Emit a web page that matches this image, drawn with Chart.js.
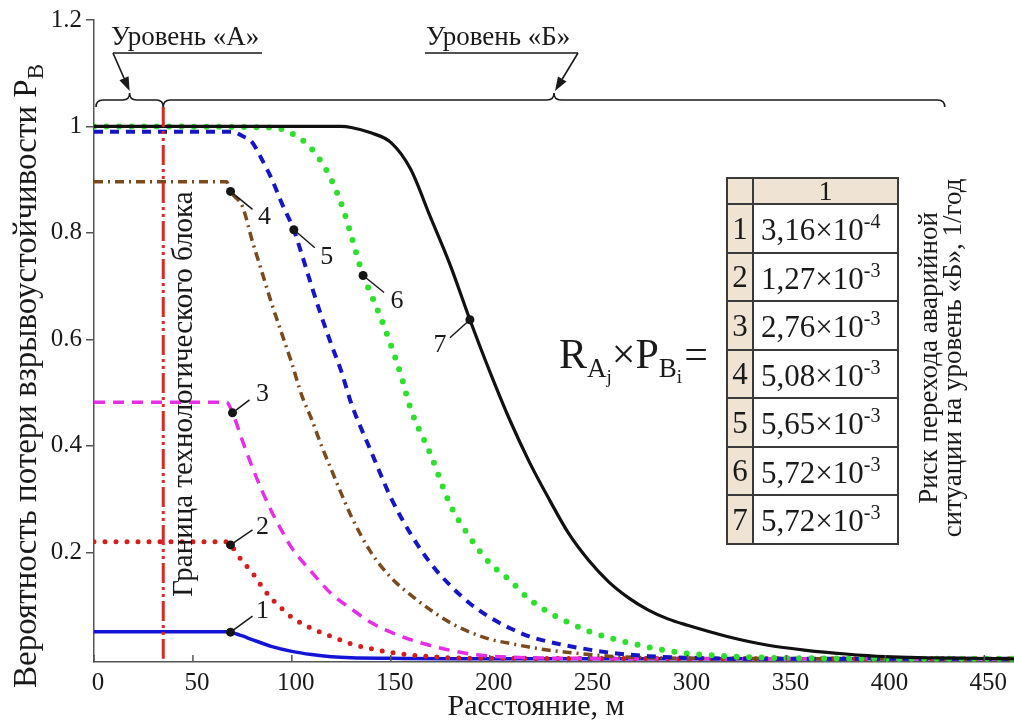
<!DOCTYPE html>
<html lang="ru">
<head>
<meta charset="utf-8">
<title>Вероятность потери взрывоустойчивости</title>
<script src="https://cdn.jsdelivr.net/npm/chart.js@4.4.1/dist/chart.umd.min.js"></script>
<style>
  html, body { margin: 0; padding: 0; background: #fff; }
  #wrap { position: relative; width: 1014px; height: 724px; overflow: hidden;
          font-family: "Liberation Serif", "DejaVu Serif", serif; color: #1a1a1a; }
  #chart { position: absolute; left: 0; top: 0; }
  #riskTable { position: absolute; left: 726px; top: 177px; border-collapse: collapse;
               table-layout: fixed; font-size: 31px; line-height: 1; }
  #riskTable th, #riskTable td { border: 2px solid #3a3a3a; padding: 0; }
  #riskTable th { height: 24px; background: #efe3d4; font-weight: normal; font-size: 28px; line-height: 24px; }
  #riskTable td.idx { width: 24px; background: #efe3d4; text-align: center; }
  #riskTable td.val { width: 136px; height: 46.5px; text-align: left; padding-left: 7px; white-space: nowrap; }
  #riskTable sup { font-size: 20px; vertical-align: 12px; }
  #formula { position: absolute; left: 559px; top: 328px; font-size: 42px; line-height: 52px; white-space: nowrap; }
  #formula .s1 { font-size: 27px; position: relative; top: 9px; }
  #formula .s2 { font-size: 19px; position: relative; top: 6px; }
  #formula .eq { margin-left: 2px; }
  #riskCaption { position: absolute; left: 741px; top: 333px; width: 400px; height: 50px;
                 transform: rotate(-90deg); text-align: center; font-size: 27px; line-height: 24px; }
</style>
</head>
<body>
<div id="wrap">
  <canvas id="chart" width="1014" height="724"></canvas>
  <div id="formula">R<span class="s1">A<span class="s2">j</span></span>×P<span class="s1">B<span class="s2">i</span></span><span class="eq">=</span></div>
  <table id="riskTable"></table>
  <div id="riskCaption">Риск перехода аварийной<br>ситуации на уровень «Б», 1/год</div>
</div>
<script>
// Distance from the source, m, and probability of losing blast resistance, curves 1-7
const dist1 = [0, 67, 69, 75, 80, 90, 100, 110, 120, 130, 150, 180, 465];
const prob1 = [0.051, 0.051, 0.050, 0.043, 0.036, 0.023, 0.014, 0.008, 0.004, 0.002, 0.001, 0, 0];

const dist2 = [0, 67, 69, 75, 80, 85, 90, 95, 100, 110, 120, 130, 140, 150, 160, 170, 180, 200, 465];
const prob2 = [0.22, 0.22, 0.214, 0.183, 0.162, 0.135, 0.112, 0.094, 0.078, 0.057, 0.042, 0.028, 0.019, 0.012, 0.007, 0.004, 0.002, 0.001, 0];

const dist3 = [0, 67, 70, 75, 80, 85, 90, 95, 100, 110, 120, 130, 140, 150, 160, 170, 180, 190, 200, 220, 240, 465];
const prob3 = [0.482, 0.482, 0.462, 0.41, 0.36, 0.315, 0.275, 0.24, 0.208, 0.163, 0.122, 0.094, 0.068, 0.05, 0.036, 0.025, 0.016, 0.009, 0.005, 0.002, 0.001, 0];

const dist4 = [0, 67, 69, 75, 80, 85, 90, 95, 100, 105, 110, 115, 120, 130, 140, 150, 160, 170, 180, 190, 200, 210, 220, 230, 240, 260, 280, 300, 465];
const prob4 = [0.896, 0.896, 0.878, 0.85, 0.785, 0.725, 0.665, 0.61, 0.555, 0.495, 0.45, 0.4, 0.355, 0.268, 0.2, 0.153, 0.12, 0.092, 0.068, 0.05, 0.037, 0.029, 0.022, 0.016, 0.012, 0.005, 0.002, 0.001, 0];

const dist5 = [0, 70, 75, 80, 85, 90, 95, 101, 105, 110, 115, 120, 125, 130, 140, 150, 160, 170, 180, 190, 200, 210, 220, 230, 240, 260, 280, 300, 330, 465];
const prob5 = [0.99, 0.99, 0.982, 0.97, 0.937, 0.9, 0.855, 0.806, 0.76, 0.7, 0.643, 0.59, 0.54, 0.48, 0.39, 0.303, 0.235, 0.18, 0.138, 0.104, 0.078, 0.058, 0.042, 0.032, 0.024, 0.012, 0.005, 0.002, 0, 0];

const dist6 = [0, 90, 100, 110, 120, 126, 130, 136, 140, 145, 150, 155, 160, 170, 180, 190, 200, 210, 220, 230, 240, 250, 260, 280, 300, 320, 340, 360, 465];
const prob6 = [1, 0.998, 0.987, 0.958, 0.9, 0.844, 0.795, 0.72, 0.685, 0.64, 0.59, 0.535, 0.47, 0.385, 0.29, 0.228, 0.18, 0.148, 0.112, 0.087, 0.068, 0.052, 0.04, 0.022, 0.01, 0.005, 0.002, 0.001, 0];

const dist7 = [0, 125, 130, 140, 150, 160, 170, 180, 190, 200, 210, 220, 230, 240, 250, 260, 270, 280, 290, 300, 320, 340, 360, 380, 400, 420, 440, 465];
const prob7 = [1, 1, 0.998, 0.988, 0.97, 0.92, 0.83, 0.74, 0.637, 0.54, 0.45, 0.37, 0.3, 0.235, 0.185, 0.145, 0.115, 0.092, 0.075, 0.063, 0.042, 0.026, 0.016, 0.009, 0.004, 0.002, 0.001, 0];

const curveNames = ['1', '2', '3', '4', '5', '6', '7'];
const markerDist = [69, 69, 70, 69, 101, 136, 190];

const xTicks = [0, 50, 100, 150, 200, 250, 300, 350, 400, 450];
const yTicks = [0.2, 0.4, 0.6, 0.8, 1, 1.2];

// process unit boundary and the extent of levels "A" and "B", m
const boundaryDist = 35;
const levelA = [0, 35];
const levelB = [35, 430];

// risk of the accident escalating to level "B", 1/year
const riskRows = ['1', '2', '3', '4', '5', '6', '7'];
const riskMantissa = ['3,16', '1,27', '2,76', '5,08', '5,65', '5,72', '5,72'];
const riskExponent = ['-4', '-3', '-3', '-3', '-3', '-3', '-3'];

const SERIF = '"Liberation Serif", "DejaVu Serif", serif';
const INK = '#1a1a1a';

const curveStyles = [
    { color: '#1414d6', width: 3.5, dash: [] },
    { color: '#d21e1e', width: 5, dash: [0, 11], cap: 'round' },
    { color: '#e52ee5', width: 3.5, dash: [11, 8] },
    { color: '#7a4a1c', width: 3.5, dash: [9, 5, 2, 5] },
    { color: '#1616c4', width: 4, dash: [9, 7] },
    { color: '#30de30', width: 6, dash: [0, 12.5], cap: 'round' },
    { color: '#111111', width: 3.2, dash: [] }
];

// where the leader line ends and where the curve number sits, relative to the marker
const labelOffsets = [
    { lead: [22, -16], text: [32, -21] },
    { lead: [22, -15], text: [32, -18] },
    { lead: [17, -13], text: [30, -19] },
    { lead: [22, 18], text: [34, 26] },
    { lead: [21, 18], text: [33, 27] },
    { lead: [21, 17], text: [34, 26] },
    { lead: [-20, 18], text: [-30, 25] }
];

const curves = [
    [dist1, prob1], [dist2, prob2], [dist3, prob3], [dist4, prob4],
    [dist5, prob5], [dist6, prob6], [dist7, prob7]
];

const datasets = curves.map(([xs, ys], k) => {
    const st = curveStyles[k];
    return {
        label: curveNames[k],
        data: xs.map((x, i) => ({ x: x, y: ys[i] })),
        borderColor: st.color,
        borderWidth: st.width,
        borderDash: st.dash,
        borderCapStyle: st.cap || 'butt',
        cubicInterpolationMode: 'monotone',
        fill: false,
        order: k === 6 ? 0 : 7 - k,
        pointRadius: ctx => (ctx.raw && ctx.raw.x === markerDist[k] ? 4.5 : 0),
        pointBackgroundColor: '#151515',
        pointBorderWidth: 0,
        pointHoverRadius: 0
    };
});

function drawBrace(ctx, x1, x2, xm, yb) {
    const r = 7;
    ctx.beginPath();
    ctx.moveTo(x1, yb + r);
    ctx.quadraticCurveTo(x1, yb, x1 + r, yb);
    ctx.lineTo(xm - r, yb);
    ctx.quadraticCurveTo(xm, yb, xm, yb - r);
    ctx.quadraticCurveTo(xm, yb, xm + r, yb);
    ctx.lineTo(x2 - r, yb);
    ctx.quadraticCurveTo(x2, yb, x2, yb + r);
    ctx.stroke();
}

function drawArrow(ctx, x0, y0, x1, y1) {
    const a = Math.atan2(y1 - y0, x1 - x0);
    const len = 14, half = 5;
    ctx.beginPath();
    ctx.moveTo(x0, y0);
    ctx.lineTo(x1 - Math.cos(a) * len, y1 - Math.sin(a) * len);
    ctx.stroke();
    ctx.beginPath();
    ctx.moveTo(x1, y1);
    ctx.lineTo(x1 - Math.cos(a) * len - Math.sin(a) * half, y1 - Math.sin(a) * len + Math.cos(a) * half);
    ctx.lineTo(x1 - Math.cos(a) * len + Math.sin(a) * half, y1 - Math.sin(a) * len - Math.cos(a) * half);
    ctx.closePath();
    ctx.fill();
}

const BRACE_Y = 100;

const decorations = {
    id: 'decorations',
    afterDatasetsDraw(chart) {
        const { ctx, chartArea, scales: { x, y } } = chart;
        ctx.save();

        // boundary of the process unit
        const bx = x.getPixelForValue(boundaryDist);
        ctx.strokeStyle = '#d42a2a';
        ctx.lineWidth = 3;
        ctx.setLineDash([20, 4, 3, 4, 3, 4]);
        ctx.beginPath();
        ctx.moveTo(bx, BRACE_Y + 7);
        ctx.lineTo(bx, y.getPixelForValue(0));
        ctx.stroke();
        ctx.setLineDash([]);

        // x ticks point into the plot
        ctx.strokeStyle = '#555';
        ctx.lineWidth = 1.5;
        xTicks.forEach(v => {
            const px = x.getPixelForValue(v);
            ctx.beginPath();
            ctx.moveTo(px, chartArea.bottom);
            ctx.lineTo(px, chartArea.bottom - 7);
            ctx.stroke();
        });

        // leader lines and curve numbers
        ctx.font = '26px ' + SERIF;
        ctx.fillStyle = INK;
        ctx.textAlign = 'center';
        ctx.textBaseline = 'middle';
        chart.data.datasets.forEach((ds, k) => {
            const idx = ds.data.findIndex(p => p.x === markerDist[k]);
            const pt = chart.getDatasetMeta(k).data[idx];
            const o = labelOffsets[k];
            ctx.strokeStyle = INK;
            ctx.lineWidth = 1.5;
            ctx.beginPath();
            ctx.moveTo(pt.x, pt.y);
            ctx.lineTo(pt.x + o.lead[0], pt.y + o.lead[1]);
            ctx.stroke();
            ctx.fillText(curveNames[k], pt.x + o.text[0], pt.y + o.text[1]);
        });
        ctx.restore();
    },
    afterDraw(chart) {
        const { ctx, scales: { x } } = chart;
        ctx.save();
        ctx.strokeStyle = INK;
        ctx.fillStyle = INK;
        ctx.lineWidth = 1.6;

        // braces for level "A" and level "B"
        const a1 = x.getPixelForValue(levelA[0]) + 2, a2 = x.getPixelForValue(levelA[1]);
        const b1 = x.getPixelForValue(levelB[0]), b2 = x.getPixelForValue(levelB[1]);
        const am = (a1 + a2) / 2, bm = x.getPixelForValue((levelB[0] + levelB[1]) / 2);
        drawBrace(ctx, a1, a2, am, BRACE_Y);
        drawBrace(ctx, b1, b2, bm, BRACE_Y);

        ctx.font = '27px ' + SERIF;
        ctx.textAlign = 'left';
        ctx.textBaseline = 'alphabetic';
        ctx.fillText('Уровень «А»', 111, 45);
        ctx.fillText('Уровень «Б»', 426, 45);

        ctx.beginPath();
        ctx.moveTo(113, 53); ctx.lineTo(262, 53);
        ctx.moveTo(425, 53); ctx.lineTo(578, 53);
        ctx.stroke();
        drawArrow(ctx, 113, 53, am, BRACE_Y - 9);
        drawArrow(ctx, 578, 53, bm + 1, BRACE_Y - 9);

        // boundary caption
        ctx.save();
        ctx.translate(x.getPixelForValue(boundaryDist) + 21, 394);
        ctx.rotate(-Math.PI / 2);
        ctx.font = '29px ' + SERIF;
        ctx.textAlign = 'center';
        ctx.textBaseline = 'middle';
        ctx.fillText('Граница технологического блока', 0, 0);
        ctx.restore();

        // axis titles
        ctx.font = '30px ' + SERIF;
        ctx.textAlign = 'center';
        ctx.textBaseline = 'middle';
        ctx.fillText('Расстояние, м', 536, 707);

        ctx.save();
        ctx.translate(25, 376);
        ctx.rotate(-Math.PI / 2);
        const main = 'Вероятность потери взрывоустойчивости P';
        ctx.font = '33px ' + SERIF;
        const w1 = ctx.measureText(main).width;
        ctx.font = '23px ' + SERIF;
        const w2 = ctx.measureText('B').width;
        const sx = -(w1 + w2) / 2;
        ctx.textAlign = 'left';
        ctx.textBaseline = 'alphabetic';
        ctx.font = '33px ' + SERIF;
        ctx.fillText(main, sx, 11);
        ctx.font = '23px ' + SERIF;
        ctx.fillText('B', sx + w1, 18);
        ctx.restore();

        ctx.restore();
    }
};

new Chart(document.getElementById('chart'), {
    type: 'line',
    data: { datasets: datasets },
    options: {
        responsive: false,
        animation: false,
        layout: { padding: { top: 20, right: 0, bottom: 0, left: 0 } },
        plugins: { legend: { display: false }, tooltip: { enabled: false } },
        scales: {
            x: {
                type: 'linear',
                min: 0,
                max: 465,
                afterBuildTicks: s => { s.ticks = xTicks.map(v => ({ value: v })); },
                afterFit: s => { s.height = 62; },
                grid: { display: false, drawTicks: false },
                border: { display: true, color: '#555', width: 1.5 },
                ticks: {
                    font: { family: SERIF, size: 25 },
                    color: INK,
                    padding: 6,
                    labelOffset: 4,
                    maxRotation: 0,
                    autoSkip: false,
                    callback: v => String(v)
                }
            },
            y: {
                min: -0.006,
                max: 1.2,
                afterBuildTicks: s => { s.ticks = yTicks.map(v => ({ value: v })); },
                afterFit: s => { s.width = 94; },
                grid: { display: true, drawOnChartArea: false, drawTicks: true, tickLength: 8, color: '#555', lineWidth: 1.5 },
                border: { display: true, color: '#555', width: 1.5 },
                ticks: {
                    font: { family: SERIF, size: 25 },
                    color: INK,
                    padding: 4,
                    autoSkip: false,
                    callback: v => String(v)
                }
            }
        }
    },
    plugins: [decorations]
});

// risk table beside the formula
const table = document.getElementById('riskTable');
let rowsHtml = '<tr><th></th><th>1</th></tr>';
riskRows.forEach((r, i) => {
    rowsHtml += '<tr><td class="idx">' + r + '</td><td class="val">' + riskMantissa[i] +
        '×10<sup>' + riskExponent[i] + '</sup></td></tr>';
});
table.innerHTML = rowsHtml;
</script>
</body>
</html>
